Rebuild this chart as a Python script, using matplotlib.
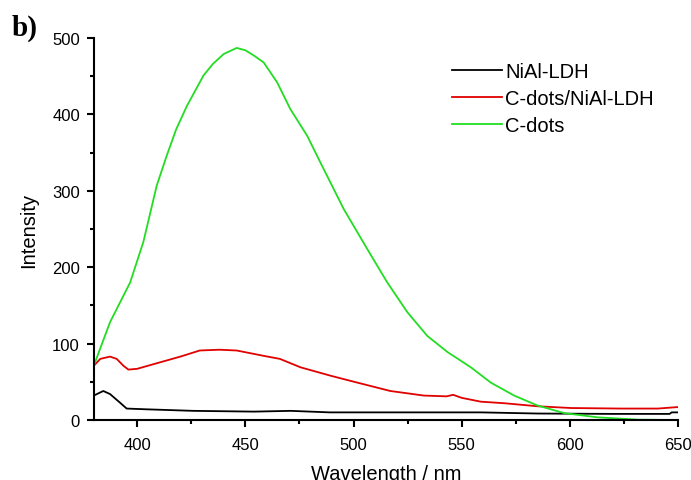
import matplotlib
matplotlib.use('Agg')
import matplotlib.pyplot as plt
from matplotlib.ticker import MultipleLocator

plt.rcParams['font.family'] = ['Liberation Sans', 'DejaVu Sans']

# C-dots
wl_cdots = [380, 387.5, 396.8, 402.9, 409.1, 413.7, 418, 423, 430.7, 435, 440, 446, 450, 454,
            458.5, 464.7, 470.8, 478.6, 484.7, 495.5, 506.3, 515.6, 524.9, 534.1, 543.4,
            554.2, 563.4, 574.2, 585, 597.4, 612.8, 631.3, 650]
int_cdots = [71, 128, 180, 233, 307, 346, 380, 411, 451, 466, 479, 487, 484, 477,
             468, 442, 407, 372, 337, 276, 224, 180, 141, 110, 89,
             69, 49, 32, 19, 9, 3.5, 0.5, 0]

# C-dots/NiAl-LDH
wl_comp = [380, 383, 387.5, 390.6, 393.7, 396, 400, 410.6, 420, 429, 438, 446, 458.5, 466,
           475.5, 489.4, 501.7, 517, 532.5, 543, 546, 550, 558.8, 569.6, 585, 600.5,
           623.6, 640.6, 650]
int_comp = [71, 80, 83, 80, 71, 66, 67, 75.5, 83, 91, 92, 91, 84, 80,
            69, 58, 49, 38, 32, 31, 33, 29, 24, 22, 18, 15.7,
            15, 15, 17]

# NiAl-LDH
wl_ldh = [380, 384.4, 387.5, 392, 395.2, 404.5, 426, 454, 471, 489, 546, 558.8, 585, 620, 646, 647, 650]
int_ldh = [32, 38, 34, 23, 15, 14, 12, 11, 12, 10, 10, 10, 8.5, 8, 8, 10, 10]

fig = plt.figure(figsize=(6.91, 4.81), dpi=100)
ax = fig.add_axes([0.1357, 0.1247, 0.8458, 0.7942])

ax.plot(wl_ldh, int_ldh, color='black', lw=1.3, label='NiAl-LDH')
ax.plot(wl_comp, int_comp, color='#e00000', lw=1.3, label='C-dots/NiAl-LDH')
ax.plot(wl_cdots, int_cdots, color='#22dd22', lw=1.3, label='C-dots')

ax.set_xlim(380, 650)
ax.set_ylim(0, 500)
ax.xaxis.set_major_locator(MultipleLocator(50))
ax.xaxis.set_minor_locator(MultipleLocator(25))
ax.yaxis.set_major_locator(MultipleLocator(100))
ax.yaxis.set_minor_locator(MultipleLocator(50))
ax.spines['top'].set_visible(False)
ax.spines['right'].set_visible(False)
for s in ['left', 'bottom']:
    ax.spines[s].set_linewidth(1.5)
ax.tick_params(which='major', direction='out', length=5, width=1.5, labelsize=12, pad=5)
ax.tick_params(axis='x', which='major', pad=7)
ax.tick_params(which='minor', direction='out', length=3, width=1.5)

ax.set_xlabel('Wavelength / nm', fontsize=14.5, labelpad=9)
ax.set_ylabel('Intensity', fontsize=14.5, labelpad=10)

ax.legend(loc='upper left', bbox_to_anchor=(0.613, 0.936), frameon=False, fontsize=14.5,
          handlelength=2.5, handletextpad=0.15, labelspacing=0.39, borderpad=0, borderaxespad=0)

fig.text(0.017, 0.925, 'b)', fontsize=21, fontweight='bold', family='Liberation Serif')

fig.savefig('out.png', dpi=100)
